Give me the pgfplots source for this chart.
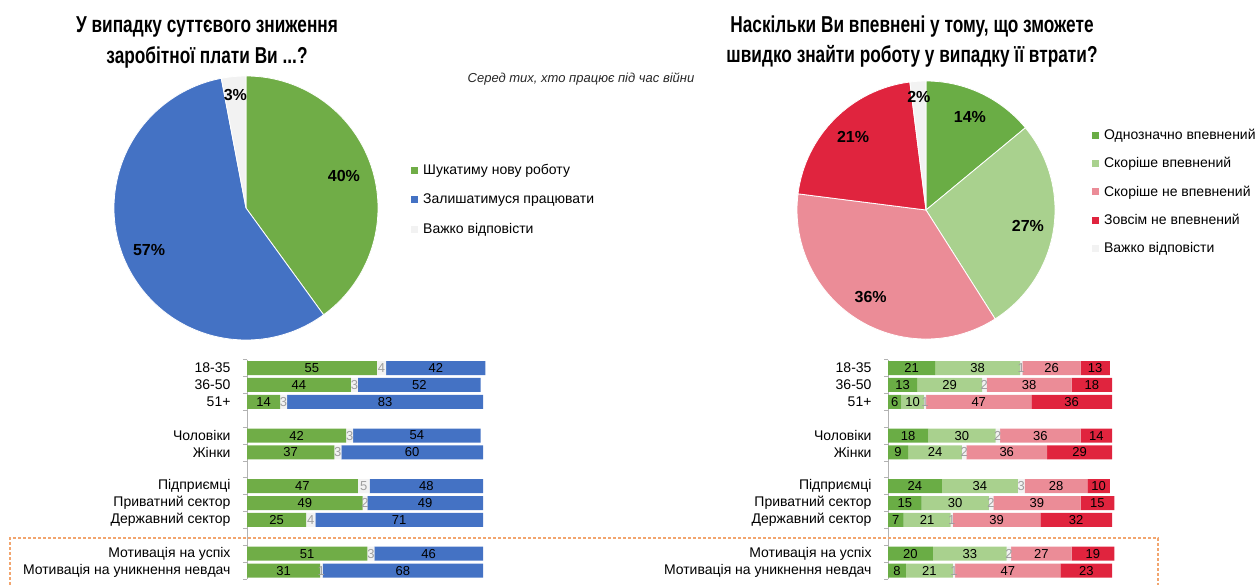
\documentclass[border=0pt]{standalone}
\usepackage{pgfplots}
\pgfplotsset{compat=1.18}
\usepackage{pgfplotstable}
\usepackage{fontspec}
\setmainfont{Liberation Sans}
\newfontfamily\titlefont[FakeStretch=0.75]{Liberation Sans}
\definecolor{cgreen}{HTML}{70AD47}
\definecolor{cblue}{HTML}{4472C4}
\definecolor{cgrey}{HTML}{F2F2F2}
\definecolor{dgreen}{HTML}{6AAD45}
\definecolor{lgreen}{HTML}{A9D18E}
\definecolor{cpink}{HTML}{EB8C97}
\definecolor{cred}{HTML}{E0243E}
\definecolor{corange}{HTML}{F2A56E}

\pgfplotstableread{
y g d b
0 55 4 42
1 44 3 52
2 14 3 83
4 42 3 54
5 37 3 60
7 47 5 48
8 49 2 49
9 25 4 71
11 51 3 46
12 31 1 68
}\leftdata

\pgfplotstableread{
y a b d c e
0 21 38 1 26 13
1 13 29 2 38 18
2 6 10 1 47 36
4 18 30 2 36 14
5 9 24 2 36 29
7 24 34 3 28 10
8 15 30 2 39 15
9 7 21 1 39 32
11 20 33 2 27 19
12 8 21 1 47 23
}\rightdata

% #1 cumulative start, #2 value, #3 colour, #4 label radius, #5 pie radius
\newcommand{\pieslice}[5]{%
  \pgfmathsetmacro\sa{90-3.6*#1}%
  \pgfmathsetmacro\ea{90-3.6*(#1+#2)}%
  \pgfmathsetmacro\ma{(\sa+\ea)/2}%
  \fill[#3, draw=white, line width=0.8bp] (axis cs:0,0) -- (axis cs:{cos(\sa)},{sin(\sa)}) arc[start angle=\sa, end angle=\ea, radius=#5] -- cycle;
  \node[font=\bfseries\fontsize{16bp}{18bp}\selectfont, inner sep=0pt] at (axis cs:{#4*cos(\ma)},{#4*sin(\ma)}) {#2\%};
}

\pgfplotsset{
  pieax/.style={scale only axis, anchor=center, xmin=-1, xmax=1, ymin=-1, ymax=1, hide axis, clip=false,
    legend cell align=left,
    legend image code/.code={\fill[##1, draw=none] (0bp,-3.5bp) rectangle (7bp,3.5bp);},
    legend style={draw=none, fill=none, anchor=north west, inner sep=0pt, column sep=3bp,
      font=\fontsize{14bp}{15bp}\selectfont}},
  barax/.style={scale only axis, height=219.4bp, xmin=0, xmax=100, ymin=-0.5, ymax=12.5,
    y dir=reverse, anchor=north west, clip=false},
  barmain/.style={barax, xbar stacked, bar width=14bp, axis x line=none, axis y line*=left,
    y axis line style={draw=gray!60, line width=0.7bp},
    ytick={0,1,2,4,5,7,8,9,11,12},
    yticklabels={18-35,36-50,51+,Чоловіки,Жінки,Підприємці,Приватний сектор,Державний сектор,Мотивація на успіх,Мотивація на уникнення невдач},
    major tick length=0pt, minor ytick={-0.5,0.5,...,12.5}, minor tick length=4bp,
    minor tick style={draw=gray!60, line width=0.7bp}, tick align=outside,
    yticklabel style={font=\fontsize{14bp}{15bp}\selectfont, xshift=-13bp}},
  barlab/.style={barax, hide axis},
  lab/.style={draw=none, nodes near coords, point meta=explicit symbolic,
    every node near coord/.append style={anchor=center, inner sep=0pt, font=\fontsize{13bp}{14bp}\selectfont, text=black}},
  glab/.style={lab, every node near coord/.append style={text=gray!75}},
}

\begin{document}
\begin{tikzpicture}
\path[use as bounding box] (0,0) rectangle (1258bp,585bp);

% titles
\node[font=\titlefont\bfseries\fontsize{23bp}{26bp}\selectfont, anchor=base] at (207bp,552bp) {У випадку суттєвого зниження};
\node[font=\titlefont\bfseries\fontsize{23bp}{26bp}\selectfont, anchor=base] at (207bp,521bp) {заробітної плати Ви ...?};
\node[font=\titlefont\bfseries\fontsize{23bp}{26bp}\selectfont, anchor=base] at (912bp,552bp) {Наскільки Ви впевнені у тому, що зможете};
\node[font=\titlefont\bfseries\fontsize{23bp}{26bp}\selectfont, anchor=base] at (912bp,522bp) {швидко знайти роботу у випадку її втрати?};
\node[font=\itshape\fontsize{13bp}{14bp}\selectfont, text=black!85, anchor=base] at (581bp,502bp) {Серед тих, хто працює під час війни};

% left pie
\begin{axis}[pieax, at={(246bp,377bp)}, width=264bp, height=264bp,
  legend style={at={(1.125,0.674)}, row sep=14bp}]
\addlegendimage{fill=cgreen}\addlegendentry{Шукатиму нову роботу}
\addlegendimage{fill=cblue}\addlegendentry{Залишатимуся працювати}
\addlegendimage{fill=cgrey}\addlegendentry{Важко відповісти}
\pgfplotsextra{%
  \pieslice{0}{40}{cgreen}{0.78}{132bp}
  \pieslice{40}{57}{cblue}{0.8}{132bp}
  \pieslice{97}{3}{cgrey}{0.86}{132bp}
}
\end{axis}

% right pie
\begin{axis}[pieax, at={(926bp,375bp)}, width=258bp, height=258bp,
  legend style={at={(1.143,0.822)}, row sep=12.5bp}]
\addlegendimage{fill=dgreen}\addlegendentry{Однозначно впевнений}
\addlegendimage{fill=lgreen}\addlegendentry{Скоріше впевнений}
\addlegendimage{fill=cpink}\addlegendentry{Скоріше не впевнений}
\addlegendimage{fill=cred}\addlegendentry{Зовсім не впевнений}
\addlegendimage{fill=cgrey}\addlegendentry{Важко відповісти}
\pgfplotsextra{%
  \pieslice{0}{14}{dgreen}{0.8}{129bp}
  \pieslice{14}{27}{lgreen}{0.8}{129bp}
  \pieslice{41}{36}{cpink}{0.8}{129bp}
  \pieslice{77}{21}{cred}{0.8}{129bp}
  \pieslice{98}{2}{cgrey}{0.88}{129bp}
}
\end{axis}

% left bars
\begin{axis}[barmain, at={(247bp,225.4bp)}, width=236bp]
\addplot[fill=cgreen, draw=none] table[x=g, y=y]{\leftdata};
\addplot[fill=cgrey, draw=none] table[x=d, y=y]{\leftdata};
\addplot[fill=cblue, draw=none] table[x=b, y=y]{\leftdata};
\end{axis}
\begin{axis}[barlab, at={(247bp,225.4bp)}, width=236bp]
\addplot[lab] table[x expr=\thisrow{g}/2, y=y, meta=g]{\leftdata};
\addplot[glab] table[x expr=\thisrow{g}+\thisrow{d}/2, y=y, meta=d]{\leftdata};
\addplot[lab] table[x expr=\thisrow{g}+\thisrow{d}+\thisrow{b}/2, y=y, meta=b]{\leftdata};
\end{axis}

% right bars
\begin{axis}[barmain, at={(888bp,225.4bp)}, width=224bp]
\addplot[fill=dgreen, draw=none] table[x=a, y=y]{\rightdata};
\addplot[fill=lgreen, draw=none] table[x=b, y=y]{\rightdata};
\addplot[fill=cgrey, draw=none] table[x=d, y=y]{\rightdata};
\addplot[fill=cpink, draw=none] table[x=c, y=y]{\rightdata};
\addplot[fill=cred, draw=none] table[x=e, y=y]{\rightdata};
\end{axis}
\begin{axis}[barlab, at={(888bp,225.4bp)}, width=224bp]
\addplot[lab] table[x expr=\thisrow{a}/2, y=y, meta=a]{\rightdata};
\addplot[lab] table[x expr=\thisrow{a}+\thisrow{b}/2, y=y, meta=b]{\rightdata};
\addplot[glab] table[x expr=\thisrow{a}+\thisrow{b}+\thisrow{d}/2, y=y, meta=d]{\rightdata};
\addplot[lab] table[x expr=\thisrow{a}+\thisrow{b}+\thisrow{d}+\thisrow{c}/2, y=y, meta=c]{\rightdata};
\addplot[lab] table[x expr=\thisrow{a}+\thisrow{b}+\thisrow{d}+\thisrow{c}+\thisrow{e}/2, y=y, meta=e]{\rightdata};
\end{axis}

% dashed frame
\draw[corange, line width=1.1bp, dash pattern=on 3bp off 2bp] (10bp,-5bp) -- (10bp,47bp) -- (1158bp,47bp) -- (1158bp,-5bp);
\end{tikzpicture}
\end{document}
